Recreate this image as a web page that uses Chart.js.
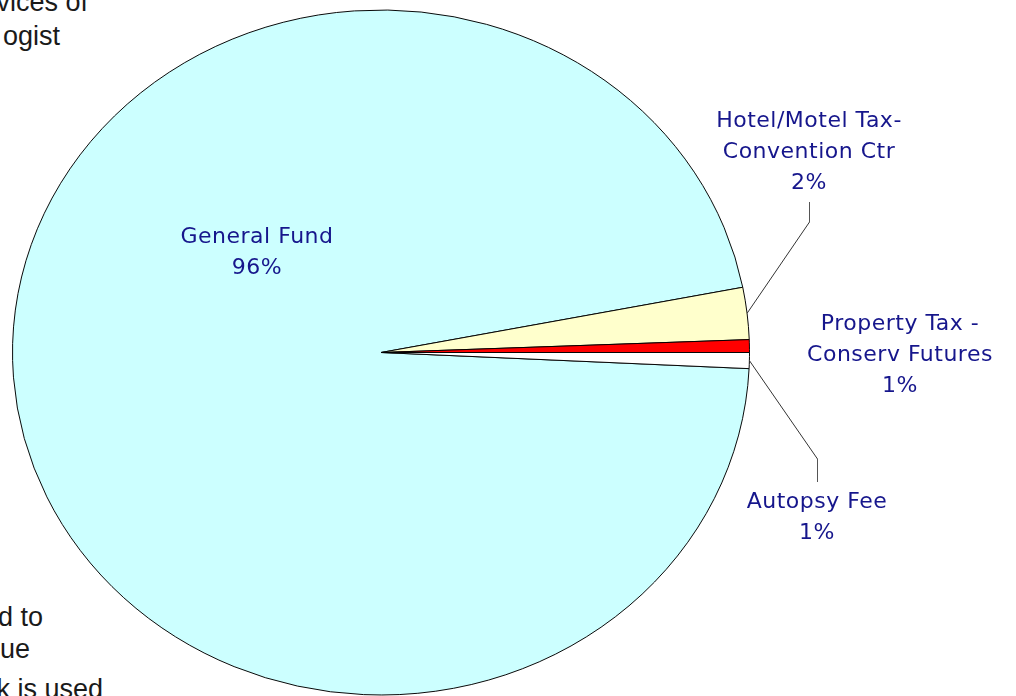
<!DOCTYPE html>
<html>
<head>
<meta charset="utf-8">
<script src="https://cdn.jsdelivr.net/npm/chart.js@4/dist/chart.umd.min.js"></script>
<style>
  html, body { margin: 0; padding: 0; background: #fff; overflow: hidden; }
  #wrap { position: relative; width: 1016px; height: 696px; overflow: hidden; }
  #chart { position: absolute; left: 0; top: 0; }
  .bg { position: absolute; font-family: "Liberation Sans", Arial, sans-serif; font-size: 27px;
        line-height: 27px; color: #1a1a1a; white-space: nowrap; text-align: right; }
</style>
</head>
<body>
<div id="wrap">
  <!-- bits of the page text around the chart, cut by the frame -->
  <div class="bg" style="right:928px; top:-11px">vices of</div>
  <div class="bg" style="right:956px; top:23px">ogist</div>
  <div class="bg" style="right:973px; top:604px">d to</div>
  <div class="bg" style="right:986px; top:636px">ue</div>
  <div class="bg" style="right:913px; top:676px">k is used</div>
  <canvas id="chart" width="1016" height="740"></canvas>
</div>
<script>
// data (percent of total)
const categories = [['General Fund'], ['Hotel/Motel Tax-', 'Convention Ctr'], ['Property Tax -', 'Conserv Futures'], ['Autopsy Fee']];
const shares = [96.2, 2.45, 0.6, 0.75];

// label placement (text baseline of first line) and leader line elbows
const labelPos = [
    {x: 257, y: 243},
    {x: 809, y: 127, elbow: {x: 809, y: 222, end: 202}},
    {x: 900, y: 330},
    {x: 817, y: 508, elbow: {x: 817, y: 459, end: 482}}
];
const LINE_H = 31;
const PIE_CY = 352.5;   // centre on the page
const PIE_RY = 342.5;   // the pie is a little flattened

const total = shares.reduce((a, b) => a + b, 0);

function squash(chart) {
    const arc = chart.getDatasetMeta(0).data[0];
    return {cx: arc.x, cy: arc.y, r: arc.outerRadius, sy: PIE_RY / arc.outerRadius};
}

const ellipsePlugin = {
    id: 'ellipse',
    beforeDatasetsDraw(chart) {
        const s = squash(chart);
        const ctx = chart.ctx;
        ctx.save();
        ctx.translate(s.cx, PIE_CY);
        ctx.scale(1, s.sy);
        ctx.translate(-s.cx, -s.cy);
    },
    afterDatasetsDraw(chart) {
        chart.ctx.restore();
    }
};

const labelPlugin = {
    id: 'sliceLabels',
    afterDraw(chart) {
        const ctx = chart.ctx;
        const s = squash(chart);
        const arcs = chart.getDatasetMeta(0).data;
        ctx.save();
        arcs.forEach((arc, i) => {
            const pos = labelPos[i];
            if (pos.elbow) {
                const mid = (arc.startAngle + arc.endAngle) / 2;
                const px = s.cx + s.r * Math.cos(mid);
                const py = PIE_CY + PIE_RY * Math.sin(mid);
                ctx.lineWidth = 1;
                ctx.strokeStyle = '#333';
                ctx.beginPath();
                ctx.moveTo(px, py);
                ctx.lineTo(pos.elbow.x + 0.5, pos.elbow.y);
                ctx.stroke();
                ctx.strokeStyle = '#555';
                ctx.beginPath();
                ctx.moveTo(pos.elbow.x + 0.5, pos.elbow.y);
                ctx.lineTo(pos.elbow.x + 0.5, pos.elbow.end);
                ctx.stroke();
            }
            const lines = categories[i].concat([Math.round(shares[i] / total * 100) + '%']);
            ctx.fillStyle = '#16168c';
            ctx.font = '22px "DejaVu Sans"';
            ctx.letterSpacing = '0.5px';
            ctx.textAlign = 'center';
            ctx.textBaseline = 'alphabetic';
            lines.forEach((t, j) => ctx.fillText(t, pos.x, pos.y + j * LINE_H));
        });
        ctx.restore();
    }
};

new Chart(document.getElementById('chart'), {
    type: 'pie',
    data: {
        labels: categories,
        datasets: [{
            data: shares,
            backgroundColor: ['#CCFFFF', '#FFFFCC', '#FF0000', '#FFFFFF'],
            borderColor: '#000',
            borderWidth: 1
        }]
    },
    options: {
        responsive: false,
        animation: false,
        rotation: 92.7,
        layout: {padding: {left: 12, right: 266, top: 1, bottom: 1}},
        plugins: {
            legend: {display: false},
            tooltip: {enabled: false}
        }
    },
    plugins: [ellipsePlugin, labelPlugin]
});
</script>
</body>
</html>
